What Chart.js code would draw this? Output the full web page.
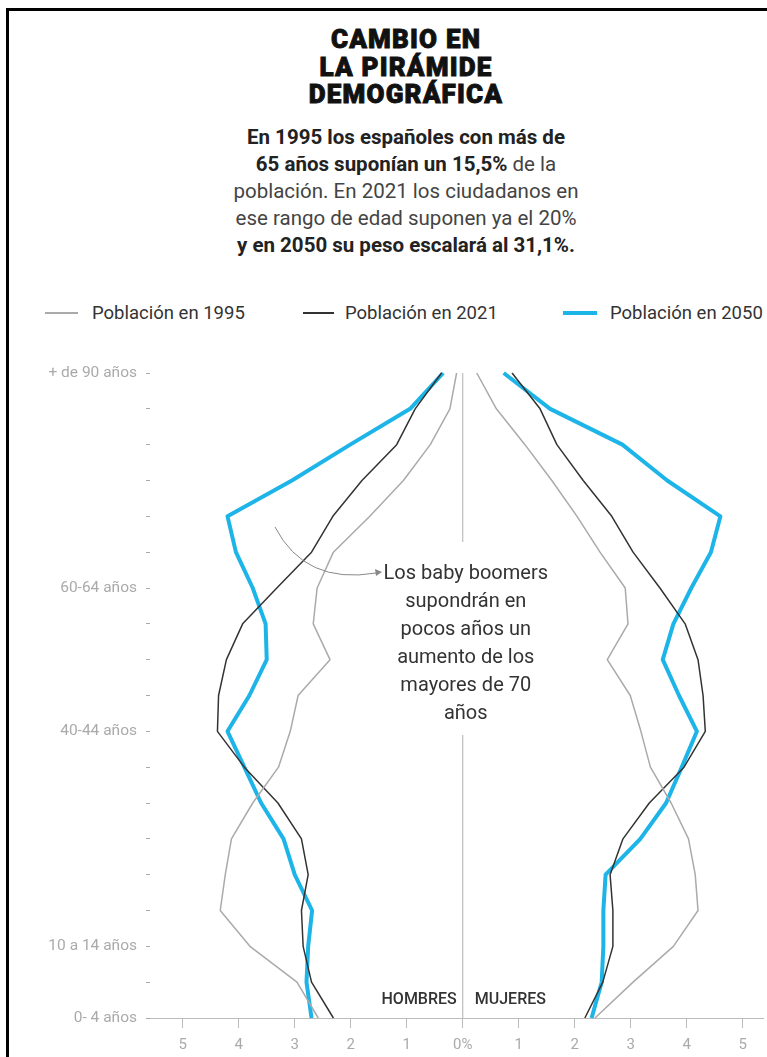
<!DOCTYPE html>
<html>
<head>
<meta charset="utf-8">
<script src="https://cdn.jsdelivr.net/npm/chart.js@4.4.1/dist/chart.umd.min.js"></script>
<style>
  body { margin: 0; width: 767px; height: 1057px; overflow: hidden; background: #fff; font-family: Roboto, sans-serif; position: relative; }
  #frame { position: absolute; left: 6px; top: 8px; right: -10px; bottom: -10px; border-left: 3px solid #000; border-top: 3px solid #000; }
  #head { position: absolute; left: 0; top: 26px; width: 812px; text-align: center; }
  h1 { margin: 0; font-weight: 900; font-size: 26px; line-height: 27.5px; color: #111; letter-spacing: 1.2px; -webkit-text-stroke: 0.9px #111; }
  #head p { margin: 15px 0 0; font-size: 20.5px; line-height: 27px; color: #444; }
  #head p b { color: #222; }
  .lg-line { position: absolute; }
  .lg-text { position: absolute; top: 302px; line-height: 22px; font-size: 18.5px; color: #333; }
  #wrap { position: absolute; left: 0; top: 350px; width: 767px; height: 707px; }
</style>
</head>
<body>
<div id="frame"></div>
<div id="head">
  <h1>CAMBIO EN<br>LA PIRÁMIDE<br>DEMOGRÁFICA</h1>
  <p><b>En 1995 los españoles con más de<br>65 años suponían un 15,5%</b> de la<br>población. En 2021 los ciudadanos en<br>ese rango de edad suponen ya el 20%<br><b>y en 2050 su peso escalará al 31,1%.</b></p>
</div>

<div class="lg-line" style="left:45px;top:312px;width:33px;height:2px;background:#aaa"></div>
<div class="lg-text" style="left:92px">Población en 1995</div>
<div class="lg-line" style="left:303px;top:312px;width:31px;height:2px;background:#333"></div>
<div class="lg-text" style="left:345px">Población en 2021</div>
<div class="lg-line" style="left:563px;top:311px;width:34px;height:4px;background:#1db4e8"></div>
<div class="lg-text" style="left:610px">Población en 2050</div>

<div id="wrap"><canvas id="pyramid"></canvas></div>

<script>
// grupos de edad, de menor a mayor
const ages = ['0- 4 años', '5-9', '10 a 14 años', '15-19', '20-24', '25-29', '30-34', '35-39',
  '40-44 años', '45-49', '50-54', '55-59', '60-64 años', '65-69', '70-74', '75-79', '80-84', '85-89', '+ de 90 años'];
const shownAges = ['0- 4 años', '10 a 14 años', '40-44 años', '60-64 años', '+ de 90 años'];

// % de la población total
const men1995   = [2.58, 2.96, 3.80, 4.33, 4.24, 4.13, 3.75, 3.29, 3.08, 2.94, 2.37, 2.67, 2.60, 2.31, 1.66, 1.06, 0.58, 0.23, 0.11];
const women1995 = [2.36, 3.04, 3.76, 4.20, 4.15, 4.03, 3.72, 3.35, 3.18, 2.99, 2.58, 2.95, 2.90, 2.45, 2.04, 1.59, 1.11, 0.60, 0.25];
const men2021   = [2.31, 2.70, 2.85, 2.88, 2.76, 2.88, 3.30, 3.90, 4.38, 4.36, 4.22, 3.93, 3.32, 2.70, 2.32, 1.80, 1.18, 0.85, 0.38];
const women2021 = [2.18, 2.50, 2.68, 2.68, 2.63, 2.86, 3.33, 3.95, 4.33, 4.29, 4.20, 3.97, 3.52, 3.04, 2.66, 2.15, 1.68, 1.38, 0.88];
const men2050   = [2.70, 2.79, 2.76, 2.69, 3.00, 3.20, 3.60, 3.90, 4.20, 3.81, 3.50, 3.52, 3.75, 4.05, 4.20, 3.05, 2.01, 0.94, 0.35];
const women2050 = [2.30, 2.48, 2.51, 2.51, 2.55, 3.17, 3.63, 3.91, 4.18, 3.86, 3.57, 3.76, 4.08, 4.43, 4.60, 3.65, 2.85, 1.56, 0.73];

const xTicks = [-5, -4, -3, -2, -1, 0, 1, 2, 3, 4, 5];

const grey = '#aaaaaa', dark = '#333333', blue = '#1db4e8';

function line(label, values, color, width, left) {
  return {
    label: label,
    data: values.map(v => left ? -v : v),
    borderColor: color,
    borderWidth: width,
    pointRadius: 0,
    tension: 0,
    fill: false,
    borderJoinStyle: 'round'
  };
}

// linea central, nota de los baby boomers y HOMBRES / MUJERES
const extras = {
  id: 'extras',
  beforeDatasetsDraw(chart) {
    const ctx = chart.ctx, x = chart.scales.x, y = chart.scales.y;
    const x0 = x.getPixelForValue(0);
    ctx.save();
    ctx.strokeStyle = '#b0b0b0';
    ctx.lineWidth = 1;
    ctx.beginPath();
    ctx.moveTo(x0, y.top);
    ctx.lineTo(x0, y.top + 169);
    ctx.moveTo(x0, y.top + 362);
    ctx.lineTo(x0, y.bottom);
    ctx.stroke();
    ctx.restore();
  },
  afterDatasetsDraw(chart) {
    const ctx = chart.ctx, x = chart.scales.x, y = chart.scales.y;
    const x0 = x.getPixelForValue(0);
    const py = v => v - 373 + y.top;   // posicion relativa al borde superior del grafico
    ctx.save();
    ctx.fillStyle = '#333';
    ctx.font = '20px Roboto';
    ctx.textAlign = 'center';
    ctx.textBaseline = 'middle';
    const note = ['Los baby boomers', 'supondrán en', 'pocos años un', 'aumento de los', 'mayores de 70', 'años'];
    note.forEach((t, i) => ctx.fillText(t, x0 + 3, py(574 + i * 28)));

    // flecha
    ctx.strokeStyle = '#888';
    ctx.lineWidth = 1;
    ctx.beginPath();
    ctx.moveTo(275, py(527));
    ctx.quadraticCurveTo(305, py(585), 376, py(573));
    ctx.stroke();
    ctx.fillStyle = '#888';
    ctx.beginPath();
    ctx.moveTo(382, py(572));
    ctx.lineTo(375, py(569));
    ctx.lineTo(376, py(576));
    ctx.closePath();
    ctx.fill();

    ctx.fillStyle = '#333';
    ctx.font = '500 16px Roboto';
    ctx.textAlign = 'right';
    ctx.fillText('HOMBRES', x0 - 6, y.bottom - 18);
    ctx.textAlign = 'left';
    ctx.fillText('MUJERES', x0 + 12, y.bottom - 18);
    ctx.restore();
  }
};

Chart.defaults.font.family = 'Roboto';

new Chart(document.getElementById('pyramid'), {
  type: 'line',
  data: {
    labels: ages,
    datasets: [
      line('Población en 1995', men1995, grey, 1.5, true),
      line('Población en 1995', women1995, grey, 1.5, false),
      line('Población en 2021', men2021, dark, 1.5, true),
      line('Población en 2021', women2021, dark, 1.5, false),
      line('Población en 2050', men2050, blue, 4, true),
      line('Población en 2050', women2050, blue, 4, false)
    ]
  },
  options: {
    indexAxis: 'y',
    responsive: true,
    maintainAspectRatio: false,
    animation: false,
    layout: { padding: { top: 23, right: 4, left: 0, bottom: 0 } },
    plugins: {
      legend: { display: false },
      tooltip: { enabled: false }
    },
    scales: {
      x: {
        type: 'linear',
        min: -5.584,
        max: 5.36,
        afterBuildTicks: s => { s.ticks = xTicks.map(v => ({ value: v })); },
        afterFit: s => { s.height = 39; },
        ticks: {
          color: '#aaa',
          font: { size: 15 },
          padding: 8,
          maxRotation: 0,
          callback: v => v === 0 ? '0%' : String(Math.abs(v))
        },
        grid: { drawOnChartArea: false, drawTicks: true, tickLength: 10, color: '#bbb' },
        border: { display: true, color: '#bbb' }
      },
      y: {
        type: 'category',
        reverse: true,
        offset: false,
        afterFit: s => { s.width = 150; },
        ticks: {
          autoSkip: false,
          color: '#aaa',
          font: { size: 15.5 },
          padding: 9,
          callback: function (v) {
            const l = this.getLabelForValue(v);
            return shownAges.includes(l) ? l : '';
          }
        },
        grid: { drawOnChartArea: false, drawTicks: true, tickLength: 4, color: '#aaa' },
        border: { display: false }
      }
    }
  },
  plugins: [extras]
});
</script>
</body>
</html>
